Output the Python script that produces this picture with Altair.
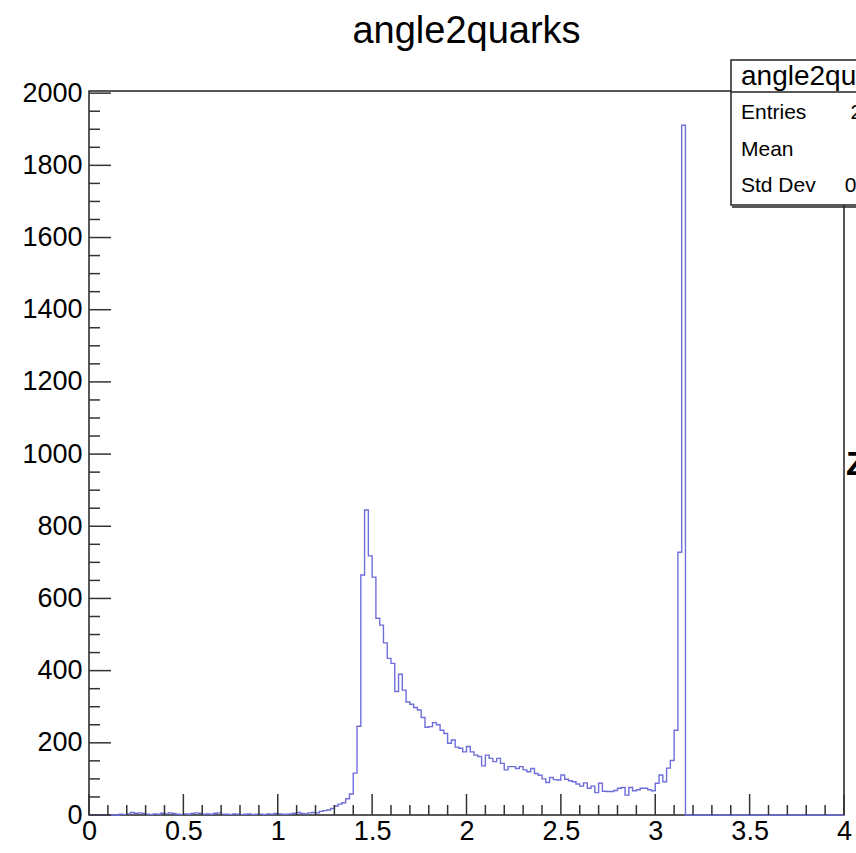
import altair as alt
import pandas as pd

# ---------------- data ----------------
title_text = "angle2quarks"
bin_start = 0.16
bin_width = 0.02

# counts per bin, 0.16 .. 1.28
counts_low = [2, 1, 3, 7, 5, 6, 4, 2, 1, 3, 2, 5, 3, 6, 4, 2, 1, 3, 2, 4, 6, 5, 2, 3, 2, 5, 6, 2,
              2, 1, 3, 2, 1, 2, 3, 1, 2, 2, 1, 3, 2,
              4, 3, 2, 2, 3, 5, 7, 4, 3, 6, 7, 6, 10, 12, 14]
# counts per bin, 1.28 .. 1.76
counts_peak = [18, 25, 30, 34, 45, 58, 116, 246, 665, 845, 718, 659, 545, 526, 477, 434,
               420, 342, 390, 346, 313, 307, 298, 291]
# counts per bin, 1.76 .. 3.16
counts_tail = [270, 243, 245, 256, 250, 235, 226, 199, 208, 188, 185, 175, 190, 175, 166, 162,
               136, 166, 157, 148, 157, 143, 125, 134, 134, 129, 134, 125, 120, 129, 115, 110,
               100, 90, 104, 98, 97, 111, 99, 95, 92, 86, 80, 89, 74, 80, 62, 88, 66, 65, 65,
               68, 74, 76, 55, 76, 67, 70, 74, 74, 70, 67, 88, 111, 92, 130, 151, 235, 728, 1911]

x_major = [0, 0.5, 1, 1.5, 2, 2.5, 3, 3.5, 4]
x_minor = [round(i * 0.1, 1) for i in range(41) if i % 5 != 0]
y_major = [0, 200, 400, 600, 800, 1000, 1200, 1400, 1600, 1800, 2000]
y_minor = [v for v in range(0, 2001, 50) if v % 200 != 0]

stat_labels = ["Entries", "Mean", "Std Dev"]
stat_entries = 20000  # leading digit "2" visible in the reference

# ---------------- build tables ----------------
counts = counts_low + counts_peak + counts_tail
n = len(counts)
edges = [round(bin_start + i * bin_width, 4) for i in range(n + 1)]
xs = [0.0] + edges[:-1] + [edges[-1], 4.0]
ys = [0] + counts + [0, 0]
hist_df = pd.DataFrame({"x": xs, "y": ys, "o": list(range(len(xs)))})

centers = [e + bin_width / 2 for e in edges[:-1]]
tot = sum(counts)
mean = sum(c * w for c, w in zip(centers, counts)) / tot
std = (sum(w * (c - mean) ** 2 for c, w in zip(centers, counts)) / tot) ** 0.5
stat_values = [str(stat_entries), f"{mean:.4g}", f"{std:.4g}"]

W, H = 755, 724
XDOM = [0, 4]
YDOM = [0, 2006]
FONT = "Liberation Sans"
LINE = "#6f6fdc"

xs_scale = alt.Scale(domain=XDOM, nice=False, zero=False)
ys_scale = alt.Scale(domain=YDOM, nice=False)

x_axis = alt.Axis(values=x_major, format="~g", ticks=False, domain=False, grid=False,
                  labelFontSize=27, labelFont=FONT, labelColor="black",
                  labelPadding=3, labelFlush=False, labelOverlap=False, title=None)
y_axis = alt.Axis(values=y_major, format="d", ticks=False, domain=False, grid=False,
                  labelFontSize=27, labelFont=FONT, labelColor="black",
                  labelPadding=7, labelFlush=False, labelOverlap=False, title=None)

hist = alt.Chart(hist_df).mark_line(
    interpolate="step-after", color=LINE, strokeWidth=1.4
).encode(
    x=alt.X("x:Q", scale=xs_scale, axis=x_axis),
    y=alt.Y("y:Q", scale=ys_scale, axis=y_axis),
    order="o:Q",
)

tick_col = "#333333"
xt_major = alt.Chart(pd.DataFrame({"x": x_major})).mark_rule(color=tick_col, strokeWidth=1.5).encode(
    x=alt.X("x:Q", scale=xs_scale, axis=x_axis), y=alt.value(H), y2=alt.value(H - 21))
xt_minor = alt.Chart(pd.DataFrame({"x": x_minor})).mark_rule(color=tick_col, strokeWidth=1.5).encode(
    x=alt.X("x:Q", scale=xs_scale, axis=x_axis), y=alt.value(H), y2=alt.value(H - 10))
yt_major = alt.Chart(pd.DataFrame({"y": y_major})).mark_rule(color=tick_col, strokeWidth=1.5).encode(
    y=alt.Y("y:Q", scale=ys_scale, axis=y_axis), x=alt.value(0), x2=alt.value(22))
yt_minor = alt.Chart(pd.DataFrame({"y": y_minor})).mark_rule(color=tick_col, strokeWidth=1.5).encode(
    y=alt.Y("y:Q", scale=ys_scale, axis=y_axis), x=alt.value(0), x2=alt.value(11))

one = pd.DataFrame({"a": [0]})

title = alt.Chart(one).mark_text(font=FONT, fontSize=38, align="center", baseline="alphabetic",
                                 color="black").encode(
    x=alt.value(W / 2), y=alt.value(-48), text=alt.value(title_text))

box = alt.Chart(one).mark_rect(fill="white", stroke="#222222", strokeWidth=1.5).encode(
    x=alt.value(642), x2=alt.value(900), y=alt.value(-31), y2=alt.value(114))
box_shadow = alt.Chart(one).mark_rule(color="#222222", strokeWidth=1.5).encode(
    x=alt.value(643), x2=alt.value(900), y=alt.value(116))
sep = alt.Chart(one).mark_rule(color="#222222", strokeWidth=1.5).encode(
    x=alt.value(642), x2=alt.value(900), y=alt.value(1))
box_title = alt.Chart(one).mark_text(font=FONT, fontSize=28, align="left", baseline="middle",
                                     color="black").encode(
    x=alt.value(652), y=alt.value(-14), text=alt.value(title_text))

stat_layers = []
for lab, val, yy in zip(stat_labels, stat_values, [22, 59, 95]):
    stat_layers.append(alt.Chart(one).mark_text(font=FONT, fontSize=21, align="left", baseline="middle",
                                                color="black").encode(
        x=alt.value(652), y=alt.value(yy), text=alt.value(lab)))
    stat_layers.append(alt.Chart(one).mark_text(font=FONT, fontSize=21, align="right", baseline="middle",
                                                color="black").encode(
        x=alt.value(820), y=alt.value(yy), text=alt.value(val)))

edge_glyph = alt.Chart(one).mark_text(font=FONT, fontSize=34, fontWeight="bold", align="left",
                                      baseline="middle", color="black").encode(
    x=alt.value(757), y=alt.value(374), text=alt.value("Z"))

chart = alt.layer(
    hist, xt_major, xt_minor, yt_major, yt_minor, title, edge_glyph,
    box, box_shadow, sep, box_title, *stat_layers
).properties(
    width=W, height=H,
    autosize=alt.AutoSizeParams(type="none"),
    padding={"left": 89, "top": 91, "right": 856 - 89 - W, "bottom": 853 - 91 - H},
    background="white",
).configure_view(stroke="#222222", strokeWidth=1.5)

chart.save("out.html", embed_options={"renderer": "svg", "actions": False})
